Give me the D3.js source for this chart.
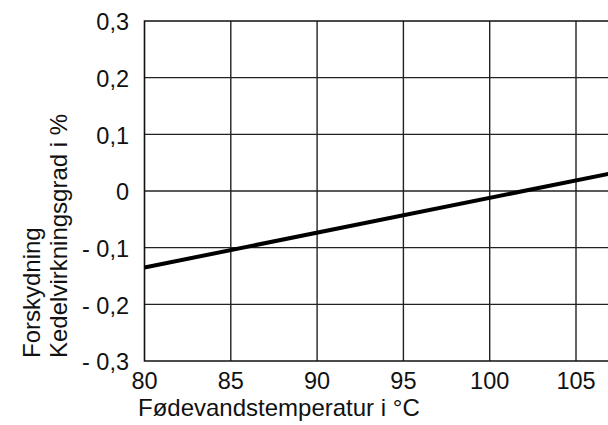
<!DOCTYPE html>
<html>
<head>
<meta charset="utf-8">
<script src="https://cdn.jsdelivr.net/npm/d3@7"></script>
<style>
    body { margin: 0; background: #fff; }
    svg { display: block; }
    text { font-family: "Liberation Sans", Arial, sans-serif; fill: #111; }
</style>
</head>
<body>
<svg id="chart" width="608" height="425"></svg>
<script>
// Fødevandstemperatur (°C) vs. forskydning af kedelvirkningsgrad (%)
const temps = [80, 107];
const shift = [-0.135, 0.031];

const xTicks = [80, 85, 90, 95, 100, 105];
const yTicks = [0.3, 0.2, 0.1, 0, -0.1, -0.2, -0.3];
const yTickLabels = ['0,3', '0,2', '0,1', '0', '- 0,1', '- 0,2', '- 0,3'];

const xTitle = 'Fødevandstemperatur i °C';
const yTitle = ['Forskydning', 'Kedelvirkningsgrad i %'];

const plotLeft = 144.5, plotTop = 21, plotBottom = 361;
const step = 86.3; // pixels per 5 °C

const x = d3.scaleLinear().domain([80, 110]).range([plotLeft, plotLeft + step * 6]);
const y = d3.scaleLinear().domain([-0.3, 0.3]).range([plotBottom, plotTop]);

const svg = d3.select('#chart');

// grid
const grid = svg.append('g');
grid.selectAll('line.v')
    .data(xTicks.slice(1))
    .enter()
    .append('line')
    .attr('x1', d => x(d)).attr('x2', d => x(d))
    .attr('y1', plotTop).attr('y2', plotBottom)
    .style('stroke', '#222')
    .style('stroke-width', '1.4px');

grid.selectAll('line.h')
    .data(yTicks.slice(1, -1))
    .enter()
    .append('line')
    .attr('x1', plotLeft).attr('x2', 608)
    .attr('y1', d => y(d)).attr('y2', d => y(d))
    .style('stroke', '#222')
    .style('stroke-width', '1.4px');

// frame (left, top, bottom; right side runs off the page)
svg.append('path')
    .attr('d', 'M608,' + plotTop + 'H' + plotLeft + 'V' + plotBottom + 'H608')
    .style('fill', 'none')
    .style('stroke', '#111')
    .style('stroke-width', '1.6px');

// data line
const line = d3.line()
    .x((d, i) => x(temps[i]))
    .y(d => y(d));

svg.append('path')
    .datum(shift)
    .attr('d', line)
    .style('fill', 'none')
    .style('stroke', '#000')
    .style('stroke-width', '4px');

// tick labels
svg.append('g')
    .selectAll('text')
    .data(yTicks)
    .enter()
    .append('text')
    .attr('x', 129)
    .attr('y', d => y(d) + 9.4)
    .attr('text-anchor', 'end')
    .style('font-size', '23.5px')
    .text((d, i) => yTickLabels[i]);

svg.append('g')
    .selectAll('text')
    .data(xTicks)
    .enter()
    .append('text')
    .attr('x', d => x(d))
    .attr('y', 388.5)
    .attr('text-anchor', 'middle')
    .style('font-size', '23.5px')
    .text(d => d);

// axis titles
svg.append('text')
    .attr('x', 138)
    .attr('y', 416)
    .style('font-size', '24px')
    .text(xTitle);

svg.append('g')
    .selectAll('text')
    .data(yTitle)
    .enter()
    .append('text')
    .attr('transform', (d, i) => 'translate(' + (40 + i * 27) + ',358) rotate(-90)')
    .style('font-size', '24px')
    .text(d => d);
</script>
</body>
</html>
